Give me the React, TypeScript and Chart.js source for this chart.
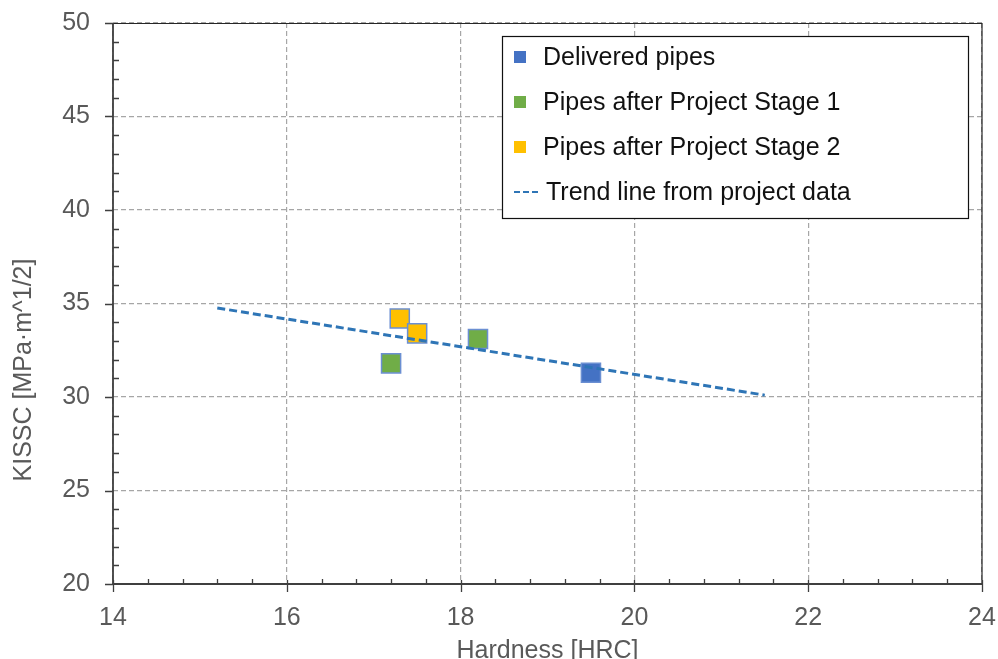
import React, { useEffect, useRef } from "react";
import { Chart, registerables } from "chart.js";

Chart.register(...registerables);

const seriesLabels = ["Delivered pipes", "Pipes after Project Stage 1", "Pipes after Project Stage 2"];
const seriesColors = ["#4472C4", "#70AD47", "#FFC000"];
const deliveredX = [19.5];
const deliveredY = [31.3];
const stage1X = [17.2, 18.2];
const stage1Y = [31.8, 33.1];
const stage2X = [17.3, 17.5];
const stage2Y = [34.2, 33.4];
const trendLabel = "Trend line from project data";
const trendX = [15.2, 21.5];
const trendY = [34.76, 30.1];
const xMin = 14, xMax = 24, xStep = 2;
const yMin = 20, yMax = 50, yStep = 5;
const xTitle = "Hardness [HRC]";
const yTitle = "KISSC [MPa·m^1/2]";

const FONT = "'Liberation Sans', Arial, sans-serif";
const FS = 25;

const pts = (xs: number[], ys: number[]) => xs.map((x, i) => ({ x, y: ys[i] }));

const framePlugin = {
  id: "frame",
  afterDraw(chart: any) {
    const { ctx, chartArea: a, scales } = chart;
    const xs = scales.x, ys = scales.y;
    ctx.save();
    // top and right border
    ctx.strokeStyle = "#262626";
    ctx.lineWidth = 1.2;
    ctx.beginPath();
    ctx.moveTo(a.left, a.top + 0.5);
    ctx.lineTo(a.right, a.top + 0.5);
    ctx.moveTo(a.right, a.top);
    ctx.lineTo(a.right, a.bottom);
    ctx.stroke();
    // axes
    ctx.strokeStyle = "#3f3f3f";
    ctx.lineWidth = 1.8;
    ctx.beginPath();
    ctx.moveTo(a.left, a.top);
    ctx.lineTo(a.left, a.bottom);
    ctx.moveTo(a.left, a.bottom);
    ctx.lineTo(a.right, a.bottom);
    ctx.stroke();
    ctx.lineWidth = 1.3;
    ctx.beginPath();
    for (let v = yMin; v <= yMax + 1e-9; v += 1) {
      const y = Math.round(ys.getPixelForValue(v)) + 0.5;
      if (Math.abs(v % yStep) < 1e-9) {
        ctx.moveTo(a.left - 8, y);
        ctx.lineTo(a.left, y);
      } else {
        ctx.moveTo(a.left, y);
        ctx.lineTo(a.left + 6, y);
      }
    }
    for (let i = 0; i <= (xMax - xMin) / 0.4 + 1e-9; i++) {
      const v = xMin + i * 0.4;
      const x = Math.round(xs.getPixelForValue(v)) + 0.5;
      if (i % 5 === 0) {
        ctx.moveTo(x, a.bottom - 4);
        ctx.lineTo(x, a.bottom + 8);
      } else {
        ctx.moveTo(x, a.bottom);
        ctx.lineTo(x, a.bottom - 5);
      }
    }
    ctx.stroke();

    // axis titles
    ctx.fillStyle = "#595959";
    ctx.font = `${FS}px ${FONT}`;
    ctx.textAlign = "center";
    ctx.textBaseline = "alphabetic";
    ctx.fillText(xTitle, (a.left + a.right) / 2, 658);
    ctx.save();
    ctx.translate(31, 370);
    ctx.rotate(-Math.PI / 2);
    ctx.fillText(yTitle, 0, 0);
    ctx.restore();

    // legend
    const lx = 502, ly = 36, lw = 466, lh = 182;
    ctx.fillStyle = "#ffffff";
    ctx.fillRect(lx, ly, lw, lh);
    ctx.strokeStyle = "#111";
    ctx.lineWidth = 1.2;
    ctx.strokeRect(lx + 0.5, ly + 0.5, lw, lh);
    const rowY = [57, 102, 147, 192];
    ctx.font = `${FS}px ${FONT}`;
    ctx.textAlign = "left";
    ctx.textBaseline = "middle";
    seriesLabels.forEach((lab, i) => {
      ctx.fillStyle = seriesColors[i];
      ctx.fillRect(514, rowY[i] - 6, 12, 12);
      ctx.fillStyle = "#111";
      ctx.fillText(lab, 543, rowY[i] + 1);
    });
    ctx.strokeStyle = "#2E75B6";
    ctx.lineWidth = 2;
    ctx.setLineDash([6, 3]);
    ctx.beginPath();
    ctx.moveTo(514, rowY[3]);
    ctx.lineTo(539, rowY[3]);
    ctx.stroke();
    ctx.setLineDash([]);
    ctx.fillStyle = "#111";
    ctx.fillText(trendLabel, 546, rowY[3] + 1);
    ctx.restore();
  },
};

export default function App() {
  const ref = useRef<HTMLCanvasElement | null>(null);
  useEffect(() => {
    if (!ref.current) return;
    const markerBorder = "#6b8fd2";
    const chart = new Chart(ref.current, {
      type: "scatter",
      data: {
        datasets: [
          {
            label: trendLabel,
            type: "line",
            data: pts(trendX, trendY),
            borderColor: "#2E75B6",
            borderWidth: 3,
            borderDash: [8, 4],
            pointRadius: 0,
            fill: false,
            order: 0,
          } as any,
          {
            label: seriesLabels[0],
            data: pts(deliveredX, deliveredY),
            backgroundColor: seriesColors[0],
            borderColor: markerBorder,
            borderWidth: 1.5,
            pointStyle: "rect",
            pointRadius: 13.5,
            order: 1,
          },
          {
            label: seriesLabels[1],
            data: pts(stage1X, stage1Y),
            backgroundColor: seriesColors[1],
            borderColor: markerBorder,
            borderWidth: 1.5,
            pointStyle: "rect",
            pointRadius: 13.5,
            order: 1,
          },
          {
            label: seriesLabels[2],
            data: pts(stage2X, stage2Y),
            backgroundColor: seriesColors[2],
            borderColor: markerBorder,
            borderWidth: 1.5,
            pointStyle: "rect",
            pointRadius: 13.5,
            order: 1,
          },
        ],
      },
      options: {
        animation: false,
        responsive: false,
        maintainAspectRatio: false,
        layout: { padding: { left: 0, right: 16, top: 23, bottom: 0 } },
        plugins: { legend: { display: false }, tooltip: { enabled: false } },
        scales: {
          x: {
            type: "linear",
            min: xMin,
            max: xMax,
            ticks: { stepSize: xStep, color: "#595959", font: { family: FONT, size: FS }, padding: 19 },
            grid: { color: "#a6a6a6", lineWidth: 1.2, drawTicks: false },
            border: { display: false, dash: [5, 3] },
            title: { display: false },
            afterFit: (s: any) => {
              s.height = 75;
              s.paddingLeft = 0;
              s.paddingRight = 0;
            },
          },
          y: {
            type: "linear",
            min: yMin,
            max: yMax,
            ticks: { stepSize: yStep, color: "#595959", font: { family: FONT, size: FS }, padding: 23 },
            grid: { color: "#a6a6a6", lineWidth: 1.2, drawTicks: false },
            border: { display: false, dash: [5, 3] },
            title: { display: false },
            afterFit: (s: any) => {
              s.width = 113;
              s.paddingTop = 0;
              s.paddingBottom = 0;
            },
          },
        },
      },
      plugins: [framePlugin],
    });
    return () => chart.destroy();
  }, []);
  return (
    <div style={{ position: "fixed", left: 0, top: 0, width: 998, height: 659, background: "#fff" }}>
      <canvas ref={ref} width={998} height={659} style={{ display: "block", width: 998, height: 659 }} />
    </div>
  );
}
